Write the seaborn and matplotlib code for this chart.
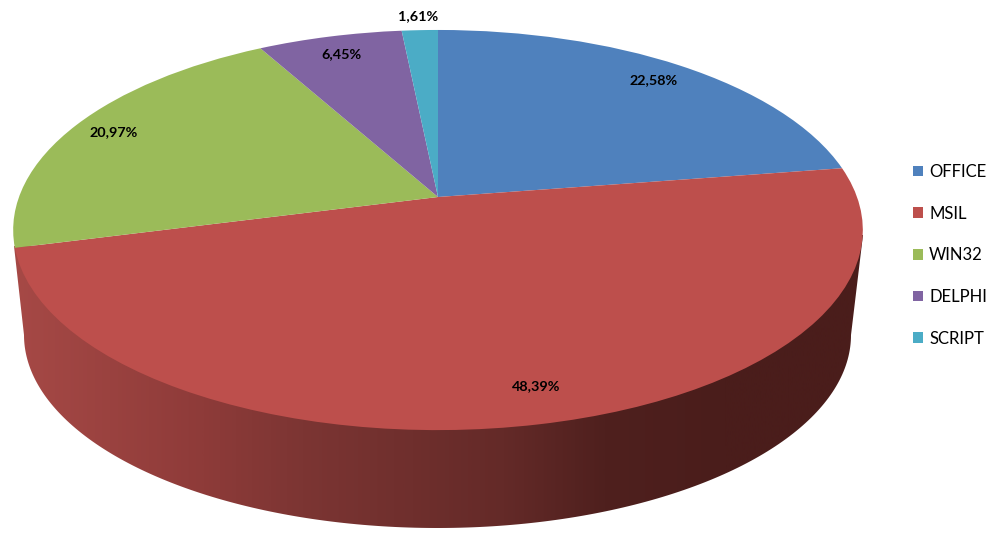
import numpy as np
import seaborn as sns
from matplotlib import pyplot as plt
from matplotlib.colors import LinearSegmentedColormap
from matplotlib.patches import Polygon
from matplotlib.transforms import Transform

categories = ["OFFICE", "MSIL", "WIN32", "DELPHI", "SCRIPT"]
shares = [22.58, 48.39, 20.97, 6.45, 1.61]
hex_colors = ["#4F81BD", "#BD4F4C", "#9BBB59", "#8064A2", "#4BACC6"]

# how far out each % label sits, and a small sideways nudge for the big one
label_radius = [0.875, 0.854, 0.89, 0.875, 1.10]
label_nudge = [0, 0.031, 0, 0, 0]

# perspective of the disc, in pixels
CX, CY = 438, 197
RX, RY, TILT = 419, 194.6, 0.165


class TiltedDisc(Transform):
    input_dims = 2
    output_dims = 2

    def transform_non_affine(self, xy):
        xy = np.asarray(xy)
        w = 1 + TILT * xy[:, 1]
        return np.column_stack([CX + RX * xy[:, 0] / w, CY - RY * xy[:, 1] / w])


sns.set_theme(style="white")
plt.rcParams["font.family"] = ["Lato", "DejaVu Sans"]

fig = plt.figure(figsize=(10.08, 5.37), dpi=100)
ax = fig.add_axes([0, 0, 1, 1])

palette = sns.color_palette(hex_colors)
wedges, _, pct = ax.pie(shares, colors=palette, startangle=90, counterclock=False,
                        autopct=lambda p: f"{p:.2f}".replace(".", ",") + "%",
                        pctdistance=1.0, textprops={"fontsize": 10.4, "fontweight": "bold", "color": "black"},
                        wedgeprops={"linewidth": 0})

disc = TiltedDisc() + ax.transData
for w in wedges:
    w.set_transform(disc)
    w.set_clip_on(False)
    w.set_zorder(2)
for t, r, n in zip(pct, label_radius, label_nudge):
    x, y = t.get_position()
    t.set_position((x * r + n, y * r))
    t.set_transform(disc)
    t.set_zorder(3)

# side wall of the pie: horizontal shading clipped to the lower rim
theta = np.linspace(np.pi, 2 * np.pi, 200)
rim_x = 437.5 + 413.5 * np.cos(theta)
rim_y = 335 - 193 * np.sin(theta)
wall = np.column_stack([
    np.r_[14, rim_x, 863],
    np.r_[246, rim_y, 235],
])
shade = LinearSegmentedColormap.from_list("wall", [
    (0.0, "#A84A47"), (0.2, "#8E3B39"), (0.3, "#7C3533"),
    (0.5, "#642A28"), (0.6, "#4F201E"), (0.72, "#4A1D1B"), (1.0, "#4A1D1B")])
img = ax.imshow(np.linspace(0, 1, 512)[None, :], cmap=shade, extent=[0, 1008, 537, 0],
                aspect="auto", zorder=1)
img.set_clip_path(Polygon(wall, closed=True, transform=ax.transData))

ax.legend(wedges, categories, loc="upper left", bbox_to_anchor=(0.9058, 0.6946),
          frameon=False, fontsize=12, handlelength=0.6, handleheight=0.6, handletextpad=0.36,
          labelspacing=1.54, labelcolor="black", borderpad=0, borderaxespad=0)

ax.set_aspect("auto")
ax.set_xlim(0, 1008)
ax.set_ylim(537, 0)
ax.set_frame_on(False)

plt.savefig("out.png", dpi=100)
